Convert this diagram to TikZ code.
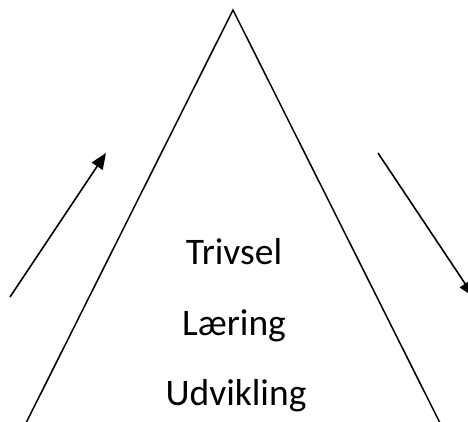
\documentclass[tikz,border=0pt]{standalone}
\usepackage{fontspec}
\setmainfont{Carlito}
\usetikzlibrary{positioning, arrows.meta}

\begin{document}
\begin{tikzpicture}[x=1pt,y=-1pt]
            \tikzset{edge/.style = {line width=1.6pt,-{Triangle[length=16pt,width=13pt]}}}
            \tikzset{side/.style = {line width=1.5pt}}
            \tikzset{word/.style = {anchor=base,inner sep=0pt,font=\fontsize{37.5}{45}\selectfont}}

            \clip (0,0) rectangle (468,422);
            \useasboundingbox (0,0) rectangle (468,422);

            % pyramid
            \coordinate (t1) at (233,10);
            \coordinate (t2) at (26,423);
            \coordinate (t3) at (440,423);
            \draw[side] (t2) -- (t1) -- (t3);

            % words
            \node[word] (trivsel) at (234,264) {Trivsel};
            \node[word] (laering) at (234,335) {Læring};
            \node[word] (udvikling) at (236,405) {Udvikling};

            % arrows
            \coordinate (a1) at (10,297);
            \coordinate (a2) at (106,153);
            \coordinate (b1) at (378,153);
            \coordinate (b2) at (474,297);
            \draw[edge] (a1) -- (a2);
            \draw[edge] (b1) -- (b2);
        \end{tikzpicture}
\end{document}
